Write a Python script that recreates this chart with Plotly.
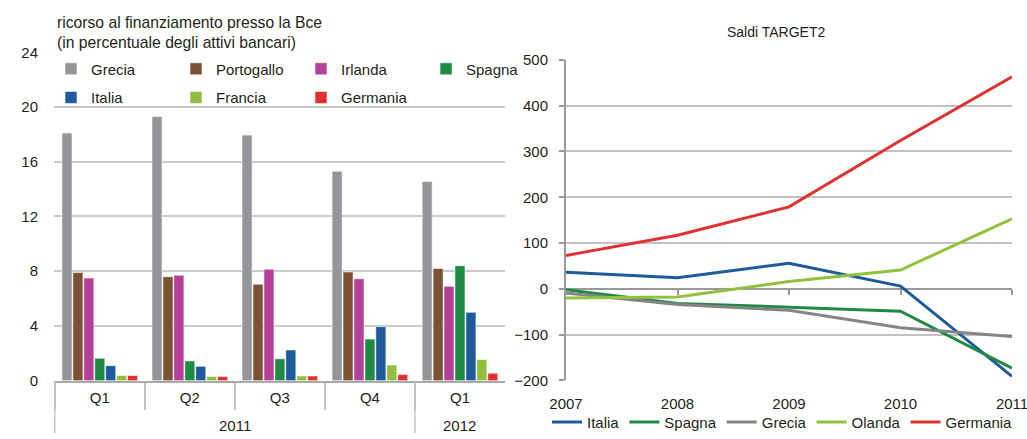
import plotly.graph_objects as go

# ---------------- data ----------------
periods = ["Q1 2011", "Q2 2011", "Q3 2011", "Q4 2011", "Q1 2012"]
quarters = ["Q1", "Q2", "Q3", "Q4", "Q1"]
years = ["2011", "2011", "2011", "2011", "2012"]

bar_countries = ["Grecia", "Portogallo", "Irlanda", "Spagna", "Italia", "Francia", "Germania"]
grecia = [18.1, 19.3, 17.95, 15.3, 14.55]
portogallo = [7.9, 7.6, 7.05, 7.95, 8.2]
irlanda = [7.5, 7.7, 8.15, 7.45, 6.9]
spagna = [1.65, 1.45, 1.6, 3.05, 8.4]
italia = [1.1, 1.05, 2.25, 3.95, 5.0]
francia = [0.38, 0.3, 0.35, 1.15, 1.55]
germania = [0.38, 0.3, 0.35, 0.45, 0.55]
bar_values = [grecia, portogallo, irlanda, spagna, italia, francia, germania]
bar_colors = ["#939598", "#7B5233", "#B5409A", "#1F8A43", "#1F5A9B", "#92BE3E", "#E03030"]

line_years = [2007, 2008, 2009, 2010, 2011]
line_countries = ["Italia", "Spagna", "Grecia", "Olanda", "Germania"]
t2_italia = [36, 24, 56, 6, -191]
t2_spagna = [-2, -32, -40, -49, -173]
t2_grecia = [-9, -34, -47, -85, -104]
t2_olanda = [-20, -18, 16, 41, 153]
t2_germania = [73, 117, 179, 324, 463]
line_values = [t2_italia, t2_spagna, t2_grecia, t2_olanda, t2_germania]
line_colors = ["#1F5A9B", "#1F8A43", "#858585", "#92C13E", "#E03232"]

left_ticks = [0, 4, 8, 12, 16, 20, 24]
right_ticks = [-200, -100, 0, 100, 200, 300, 400, 500]

# ---------------- layout geometry ----------------
W, H = 1027, 439
FONT = "Liberation Sans, Arial, sans-serif"
TXT = "#231F20"
FS = 15


def px_x(p):
    return p / W


def px_y(p):
    return (H - p) / H


fig = go.Figure()

for i, (name, vals, col) in enumerate(zip(bar_countries, bar_values, bar_colors)):
    fig.add_trace(go.Bar(
        x=periods, y=vals, name=name,
        marker=dict(color=col, line=dict(color="rgba(255,255,255,0.7)", width=0.8)),
        xaxis="x", yaxis="y",
        legend="legend" if i < 4 else "legend2",
    ))

for name, vals, col in zip(line_countries, line_values, line_colors):
    fig.add_trace(go.Scatter(
        x=line_years, y=vals, name=name, mode="lines",
        line=dict(color=col, width=3),
        xaxis="x2", yaxis="y2", legend="legend3",
    ))

# helper (empty) trace for the tick marks on the zero line
fig.add_trace(go.Scatter(x=[], y=[], xaxis="x3", yaxis="y2", showlegend=False, hoverinfo="skip"))

y_dom_l = [px_y(386), px_y(53)]
y_dom_r = [px_y(385.7), px_y(60.7)]
zero_pos = y_dom_r[0] + (y_dom_r[1] - y_dom_r[0]) * 200 / 700

# year group labels and long dividers, derived from the category order
year_groups = []
for idx, yr in enumerate(years):
    if not year_groups or year_groups[-1][0] != yr:
        year_groups.append([yr, idx, idx])
    else:
        year_groups[-1][2] = idx

annotations = [
    dict(text="ricorso al finanziamento presso la Bce<br>(in percentuale degli attivi bancari)",
         xref="paper", yref="paper", x=px_x(55), y=px_y(12), xanchor="left", yanchor="top",
         align="left", showarrow=False, font=dict(size=15.7, color=TXT)),
    dict(text="Saldi TARGET2", xref="paper", yref="paper", x=px_x(776), y=px_y(32),
         xanchor="center", yanchor="middle", showarrow=False,
         font=dict(size=14, color=TXT)),
]
shapes = []
for yr, a, b in year_groups:
    annotations.append(dict(text=yr, xref="x", yref="paper", x=(a + b) / 2, y=px_y(431),
                            xanchor="center", yanchor="middle", showarrow=False,
                            font=dict(size=FS, color=TXT)))
    shapes.append(dict(type="line", xref="x", yref="paper", x0=a - 0.5, x1=a - 0.5,
                       y0=0, y1=y_dom_l[0], line=dict(color="#C4C4C4", width=1.5)))

fig.update_layout(
    width=W, height=H,
    margin=dict(l=0, r=0, t=0, b=0),
    paper_bgcolor="white", plot_bgcolor="white",
    font=dict(family=FONT, size=FS, color=TXT),
    barmode="group", bargap=0.15, bargroupgap=0.08,
    showlegend=True,
    xaxis=dict(
        domain=[px_x(54), px_x(505)], anchor="y", automargin=False,
        type="category", tickvals=periods, ticktext=quarters,
        showline=True, linecolor="#A9A9A9", linewidth=2,
        ticks="outside", tickson="boundaries", ticklen=27, tickcolor="#C4C4C4", tickwidth=1.5,
        ticklabelstandoff=2,
        tickfont=dict(size=FS, color=TXT),
        showgrid=False, zeroline=False,
    ),
    yaxis=dict(
        domain=y_dom_l, anchor="x", automargin=False,
        range=[0, 24], tickvals=left_ticks,
        showgrid=True, gridcolor="#CACACA", gridwidth=1.5,
        zeroline=False, showline=False, ticks="",
        ticklabelstandoff=15,
        tickfont=dict(size=FS, color=TXT),
    ),
    xaxis2=dict(
        domain=[px_x(566), px_x(1012)], anchor="free", position=y_dom_r[0], automargin=False,
        range=[2007, 2011], tickvals=line_years,
        showgrid=False, zeroline=False, showline=False, ticks="",
        ticklabelstandoff=13, ticklabeloverflow="allow",
        tickfont=dict(size=FS, color=TXT),
    ),
    xaxis3=dict(
        domain=[px_x(566), px_x(1012)], anchor="free", position=zero_pos,
        overlaying="x2", matches="x2", automargin=False,
        range=[2007, 2011], tickvals=line_years,
        showgrid=False, zeroline=False, showline=False, showticklabels=False,
        ticks="outside", ticklen=5, tickcolor="#999999", tickwidth=1.5,
    ),
    yaxis2=dict(
        domain=y_dom_r, anchor="x2", automargin=False,
        range=[-200, 500], tickvals=right_ticks,
        tickformat="d",
        showgrid=True, gridcolor="#C2C2C2", gridwidth=1.5,
        zeroline=True, zerolinecolor="#999999", zerolinewidth=2,
        showline=True, linecolor="#999999", linewidth=2,
        ticks="outside", ticklen=5, tickcolor="#999999", tickwidth=1.5,
        ticklabelstandoff=8,
        tickfont=dict(size=FS, color=TXT),
    ),
    legend=dict(
        orientation="h", x=px_x(51), xanchor="left", y=px_y(70), yanchor="middle",
        entrywidth=80, entrywidthmode="pixels", bgcolor="rgba(0,0,0,0)",
        font=dict(size=FS, color=TXT), itemclick=False, tracegroupgap=0,
    ),
    legend2=dict(
        orientation="h", x=px_x(51), xanchor="left", y=px_y(99), yanchor="middle",
        entrywidth=80, entrywidthmode="pixels", bgcolor="rgba(0,0,0,0)",
        font=dict(size=FS, color=TXT), itemclick=False,
    ),
    legend3=dict(
        orientation="h", x=px_x(547), xanchor="left", y=px_y(428), yanchor="middle",
        bgcolor="rgba(0,0,0,0)",
        font=dict(size=FS, color=TXT), itemclick=False,
    ),
    annotations=annotations,
    shapes=shapes,
)

fig.write_html("out.html", config={"displayModeBar": False},
               post_script="document.body.style.margin='0px';")
